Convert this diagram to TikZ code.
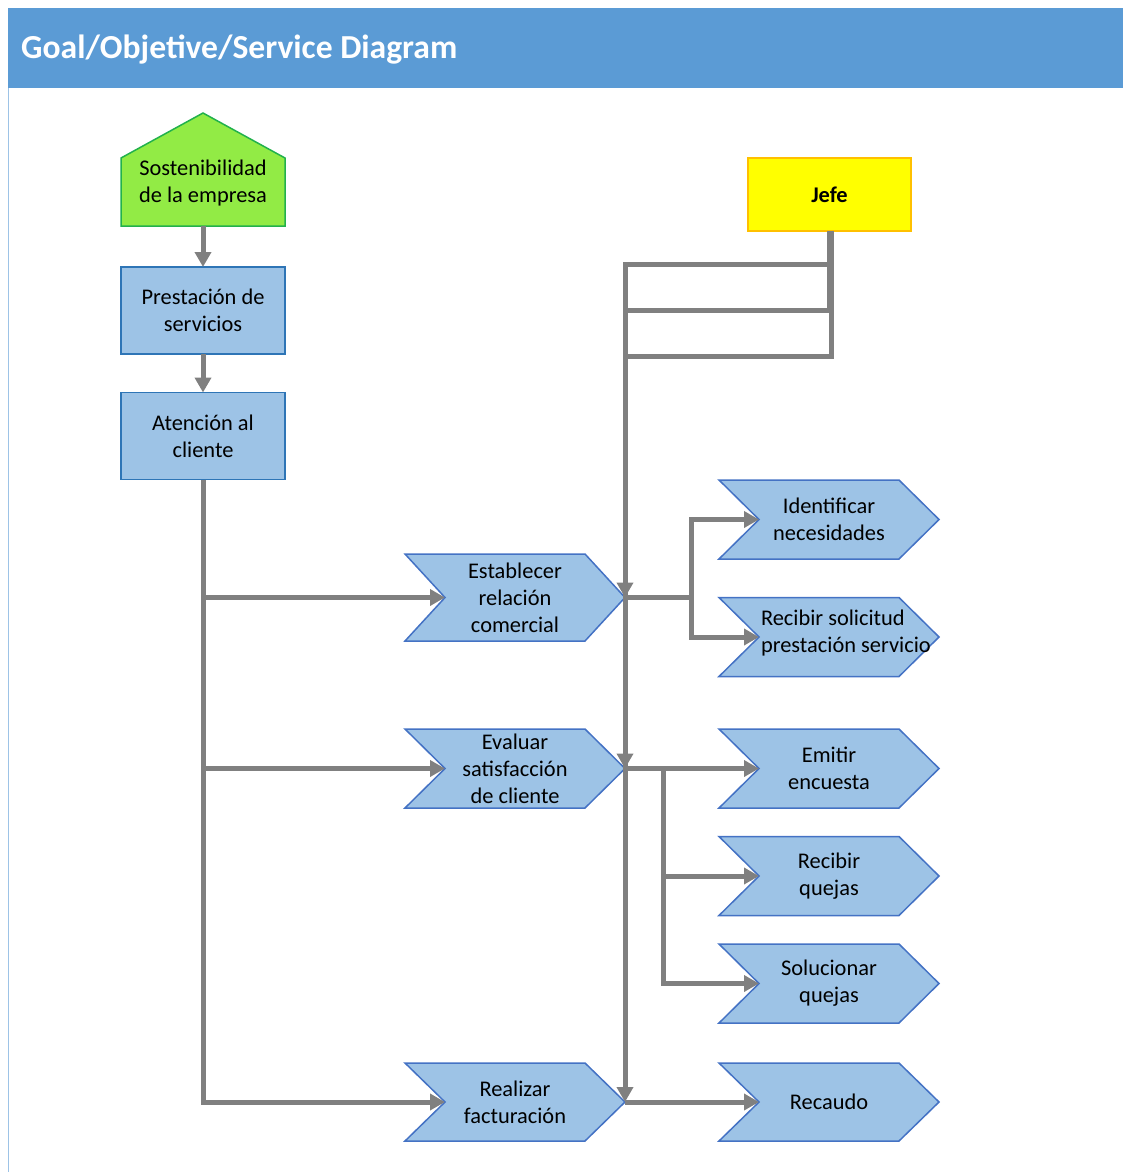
\documentclass[tikz,border=0pt]{standalone}
\usepackage{fontspec}
\setmainfont{Carlito}
\usetikzlibrary{arrows.meta}
\definecolor{hdr}{HTML}{5B9BD5}
\definecolor{hdrline}{HTML}{9DC3E6}
\definecolor{boxfill}{HTML}{9DC3E6}
\definecolor{boxline}{HTML}{2E75B6}
\definecolor{chevline}{HTML}{4472C4}
\definecolor{goalfill}{HTML}{92EB45}
\definecolor{goalline}{HTML}{22B14C}
\definecolor{bossfill}{HTML}{FFFF00}
\definecolor{bossline}{HTML}{FFC000}
\definecolor{wire}{HTML}{808080}

% chevron: name, centre x, centre y, height, text
\newcommand{\chevstep}[5]{%
  \filldraw[chevshape] (#2-110,#3-#4/2) -- ++(180,0) -- ++(40,#4/2) -- ++(-40,#4/2)
     -- ++(-180,0) -- ++(40,-#4/2) -- cycle;
  \node[chevtext, minimum height=#4] (#1) at (#2,#3) {#5};}

\begin{document}
\begin{tikzpicture}[x=1pt,y=-1pt,
  txt/.style={font=\fontsize{22.4}{27}\selectfont, align=center, inner sep=0pt, outer sep=0pt},
  procbox/.style={txt, draw=boxline, fill=boxfill, line width=1.5pt,
                  minimum width=164pt, minimum height=87pt},
  bossbox/.style={txt, font=\fontsize{22.4}{27}\selectfont\bfseries, draw=bossline, fill=bossfill,
                  line width=1.5pt, minimum width=163pt, minimum height=73pt},
  chevshape/.style={draw=chevline, fill=boxfill, line width=1.5pt, line join=miter},
  chevtext/.style={txt, minimum width=220pt},
  link/.style={draw=wire, line width=5pt, -{Triangle[length=15pt,width=16pt]}},
]
\useasboundingbox (0,0) rectangle (1123,1172);

% header band
\fill[hdr] (8,8) rectangle (1123,88);
\draw[hdrline, line width=1pt] (8,88) -- (8,1172);
\node[anchor=west, text=white, inner sep=0pt,
      font=\fontsize{33.6}{38}\selectfont\bfseries] (title) at (21,50)
      {Goal/Objetive/Service Diagram};

% goal (house shape)
\filldraw[draw=goalline, fill=goalfill, line width=1.5pt]
  (121,226) -- (121,158) -- (203,113) -- (285,158) -- (285,226) -- cycle;
\node[txt] (sost) at (203,183.5) {Sostenibilidad\\de la empresa};
\coordinate (sostb) at (203,226);

% objectives
\node[procbox] (prest) at (203,310.5) {Prestación de\\servicios};
\node[procbox] (aten) at (203,436) {Atención al\\cliente};

% role
\node[bossbox] (jefe) at (829.5,194.5) {Jefe};

% services
\chevstep{est}{515}{597.5}{87}{Establecer\\relación\\comercial}
\chevstep{eval}{515}{768.5}{79}{Evaluar\\satisfacción\\de cliente}
\chevstep{fact}{515}{1102}{78}{Realizar\\facturación}
\chevstep{ident}{829}{519.5}{79}{Identificar\\necesidades}
\chevstep{recsol}{829}{637}{79}{}
\node[txt, align=left, anchor=west] (recsoltxt) at (761,633) {Recibir solicitud\\prestación servicio};
\chevstep{emit}{829}{768.5}{79}{Emitir\\encuesta}
\chevstep{recq}{829}{876}{79}{Recibir\\quejas}
\chevstep{soluq}{829}{983.5}{79}{Solucionar\\quejas}
\chevstep{recaudo}{829}{1102}{78}{Recaudo}

% hierarchy links
\draw[link] (sostb) -- (prest.north);
\draw[link] (prest.south) -- (aten.north);

% customer care to its services
\draw[link] (aten.south) |- ([xshift=40pt]fact.west);
\draw[link] (aten.south) |- ([xshift=40pt]eval.west);
\draw[link] (aten.south) |- ([xshift=40pt]est.west);

% role to services
\draw[link] ([xshift=1.5pt]jefe.south) -- ++(0,125) -| (fact.east);
\draw[link] (jefe.south) -- ++(0,79) -| (eval.east);
\draw[link] (jefe.south) -- ++(0,33) -| (est.east);

% sub-services
\draw[link] (est.east) -- ++(66,0) |- ([xshift=40pt]ident.west);
\draw[link] (est.east) -- ++(66,0) |- ([xshift=40pt]recsol.west);
\draw[link] (eval.east) -- ([xshift=40pt]emit.west);
\draw[link] (eval.east) -- ++(38,0) |- ([xshift=40pt]recq.west);
\draw[link] (eval.east) -- ++(38,0) |- ([xshift=40pt]soluq.west);
\draw[link] (fact.east) -- ([xshift=40pt]recaudo.west);
\end{tikzpicture}
\end{document}
